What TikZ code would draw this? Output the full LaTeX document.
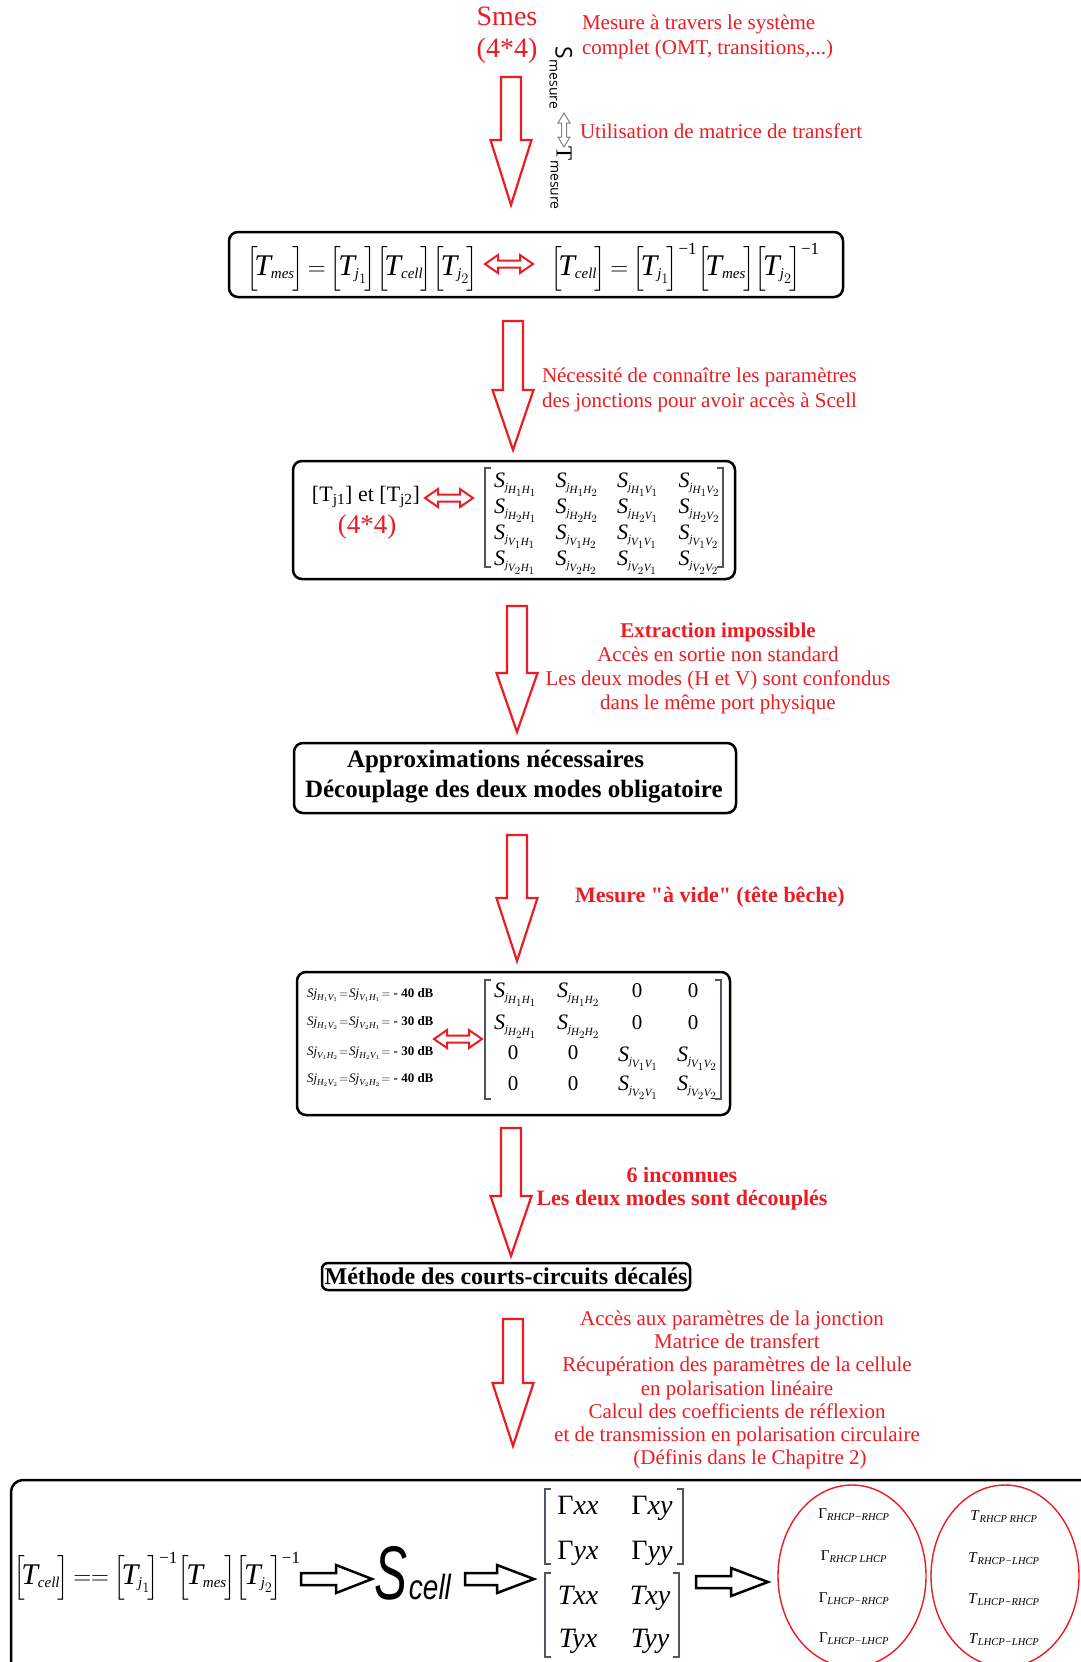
\documentclass[tikz,border=0pt]{standalone}
\usepackage{amsmath}
\usepackage{fontspec}
\setmainfont{Liberation Serif}
\newfontfamily\sansf{Liberation Sans}
\newfontfamily\opensans{Open Sans}
\usetikzlibrary{shapes.geometric}
\definecolor{myred}{RGB}{236,28,36}
\definecolor{brkc}{RGB}{80,85,100}
\newcommand{\fs}[2]{\fontsize{#1}{#2}\selectfont}
\newcommand{\mi}[1]{\text{\itshape #1}}
\newcommand{\Tm}{\mi{T}}
\newcommand{\bk}[1]{{\left[\rule[-13pt]{0pt}{42pt}\mkern-2.5mu#1\mkern-2mu\right]}}
\newcommand{\sbs}[1]{_{\scriptscriptstyle #1}}
\newcommand{\inv}{^{\text{\fs{17}{17}−1}}}
% big hollow red down arrow: x, top, head base, tip
\newcommand{\bigdown}[4]{\draw[blockarr] ({#1-10},#2) -- ({#1+10},#2) -- ({#1+10},#3) -- ({#1+20.5},#3) -- (#1,#4) -- ({#1-20.5},#3) -- ({#1-10},#3) -- cycle;}
% red hollow horizontal double arrow: x1, x2, y
\newcommand{\hdarrow}[3]{\draw[redd] (#1,#3) -- ({#1+13},{#3-9}) -- ({#1+13},{#3-3.5}) -- ({#2-13},{#3-3.5}) -- ({#2-13},{#3-9}) -- (#2,#3) -- ({#2-13},{#3+9}) -- ({#2-13},{#3+3.5}) -- ({#1+13},{#3+3.5}) -- ({#1+13},{#3+9}) -- cycle;}
% black hollow right arrow: x1, xhead, x2, y
\newcommand{\rarr}[4]{\draw[blackarr] (#1,{#4-6}) -- (#2,{#4-6}) -- (#2,{#4-14}) -- (#3,#4) -- (#2,{#4+14}) -- (#2,{#4+6}) -- (#1,{#4+6}) -- cycle;}
% bracket pair: xl, xr, top, bottom
\newcommand{\brpair}[4]{\draw[brk] ({#1+6},#3) -- (#1,#3) -- (#1,#4) -- ({#1+6},#4); \draw[brk] ({#2-6},#3) -- (#2,#3) -- (#2,#4) -- ({#2-6},#4);}
\begin{document}
\begin{tikzpicture}[x=1pt,y=-1pt,
  plain/.style={inner sep=0pt, outer sep=0pt},
  redtxt/.style={plain, text=myred, font=\fs{21}{24}, align=center},
  redtxtl/.style={plain, text=myred, font=\fs{21}{25}, align=left, anchor=west},
  boxst/.style={draw=black, line width=2.5pt, rounded corners=9pt, inner sep=0pt},
  blockarr/.style={draw=myred, line width=2.2pt, line join=miter},
  redd/.style={draw=myred, line width=2pt, line join=miter},
  blackarr/.style={draw=black, line width=2.5pt, line join=miter},
  brk/.style={draw=brkc, line width=1.1pt},
  ellst/.style={ellipse, draw=myred, line width=1.4pt, inner sep=0pt},
  frm/.style={plain, font=\fs{30}{30}, anchor=base west},
  sjeq/.style={plain, anchor=west, font=\fs{13}{13}}
]
\useasboundingbox (0,0) rectangle (1080,1662);
\fill[white] (0,0) rectangle (1080,1662);

% ---------- top ----------
\node[plain, text=myred, font=\fs{28}{32}, align=center] (smes) at (507,35) {Smes\\(4*4)};
\node[redtxtl] (t1) at (582,36.5) {Mesure à travers le système\\complet (OMT, transitions,...)};
\node[redtxtl] (t2) at (580,131) {Utilisation de matrice de transfert};
\node[plain, rotate=-90] (smesure) at (561,78) {\opensans\fs{23}{23}S\raisebox{-6pt}{\fs{14}{14}mesure}};
\node[plain, rotate=-90] (tmesure) at (561,178) {\fs{23}{23}T\raisebox{-6pt}{\opensans\fs{14}{14}mesure}};
\draw[draw=gray, line width=1pt, line join=miter] (564,113) -- (570,123) -- (566.5,123) -- (566.5,137) -- (570,137) -- (564,147) -- (558,137) -- (561.5,137) -- (561.5,123) -- (558,123) -- cycle;
\bigdown{511}{77}{140}{205}

% ---------- box 1 ----------
\node[boxst, minimum width=614pt, minimum height=65pt] (b1) at (536,264.5) {};
\node[frm] (f1) at (246,275) {$\thickmuskip=3mu \bk{\Tm\sbs{\mi{mes}}}=\bk{\Tm\sbs{\mi{j}_1}}\bk{\Tm\sbs{\mi{cell}}}\bk{\Tm\sbs{\mi{j}_2}}$};
\node[frm] (f2) at (550,275) {$\thickmuskip=3mu \bk{\Tm\sbs{\mi{cell}}}=\bk{\Tm\sbs{\mi{j}_1}}\inv\bk{\Tm\sbs{\mi{mes}}}\bk{\Tm\sbs{\mi{j}_2}}\inv$};
\hdarrow{485}{533}{264}

\bigdown{513}{321}{390}{450}
\node[redtxtl] (t3) at (542,389.5) {Nécessité de connaître les paramètres\\des jonctions pour avoir accès à Scell};

% ---------- box 2 ----------
\node[boxst, minimum width=442pt, minimum height=118pt] (b2) at (514,520) {};
\node[plain, font=\fs{22}{22}] (tj) at (366,497) {[T\textsubscript{j1}] et [T\textsubscript{j2}]};
\node[plain, text=myred, font=\fs{27}{27}] (q44) at (367,527) {(4*4)};
\hdarrow{425}{473}{498}
\brpair{485}{723}{468}{567}
\foreach \rr [count=\i] in {{\mi{H}_1},{\mi{H}_2},{\mi{V}_1},{\mi{V}_2}}{
  \foreach \cc [count=\k] in {{\mi{H}_1},{\mi{H}_2},{\mi{V}_1},{\mi{V}_2}}{
    \node[plain, anchor=base west, font=\fs{22}{22}] (m\i\k) at ({494+61.5*(\k-1)},{487+26*(\i-1)}) {$\mi{S}\sbs{\mi{j}_{\rr\cc}}$};
  }
}

\bigdown{517}{606}{673}{732}
\node[redtxt, font=\fs{21}{24.3}] (t4) at (718,668.5) {\textbf{Extraction impossible}\\Accès en sortie non standard\\Les deux modes (H et V) sont confondus\\dans le même port physique};

% ---------- box 3 ----------
\node[boxst, minimum width=442pt, minimum height=70pt] (b3) at (515,778) {};
\node[plain, font=\bfseries\fs{25}{30}, align=left, anchor=west] (t5) at (305,777) {\hspace*{42pt}Approximations nécessaires\\Découplage des deux modes obligatoire};

\bigdown{517}{835}{898}{961}
\node[plain, text=myred, font=\bfseries\fs{22}{22}, anchor=west] (t6) at (575,897) {Mesure \textquotedbl à vide\textquotedbl{} (tête bêche)};

% ---------- box 4 ----------
\node[boxst, minimum width=433pt, minimum height=143pt] (b4) at (513.5,1043.5) {};
\node[sjeq] (e1) at (307,995) {$\thickmuskip=1.5mu\mi{Sj}_{\mi{H}_1\mi{V}_1}=\mi{Sj}_{\mi{V}_1\mi{H}_1}=$ \textbf{- 40 dB}};
\node[sjeq] (e2) at (307,1023) {$\thickmuskip=1.5mu\mi{Sj}_{\mi{H}_1\mi{V}_2}=\mi{Sj}_{\mi{V}_2\mi{H}_1}=$ \textbf{- 30 dB}};
\node[sjeq] (e3) at (307,1053) {$\thickmuskip=1.5mu\mi{Sj}_{\mi{V}_1\mi{H}_2}=\mi{Sj}_{\mi{H}_2\mi{V}_1}=$ \textbf{- 30 dB}};
\node[sjeq] (e4) at (307,1080) {$\thickmuskip=1.5mu\mi{Sj}_{\mi{H}_2\mi{V}_2}=\mi{Sj}_{\mi{V}_2\mi{H}_2}=$ \textbf{- 40 dB}};
\hdarrow{434}{482}{1039}
\brpair{485}{721}{980}{1099}
\node[plain, anchor=base west, font=\fs{22}{22}] (n11) at (494,997) {$\mi{S}\sbs{\mi{j}_{\mi{H}_1\mi{H}_1}}$};
\node[plain, anchor=base west, font=\fs{22}{22}] (n12) at (557,997) {$\mi{S}\sbs{\mi{j}_{\mi{H}_1\mi{H}_2}}$};
\node[plain, anchor=base, font=\fs{21}{21}] (n13) at (637,997) {0};
\node[plain, anchor=base, font=\fs{21}{21}] (n14) at (693,997) {0};
\node[plain, anchor=base west, font=\fs{22}{22}] (n21) at (494,1029) {$\mi{S}\sbs{\mi{j}_{\mi{H}_2\mi{H}_1}}$};
\node[plain, anchor=base west, font=\fs{22}{22}] (n22) at (557,1029) {$\mi{S}\sbs{\mi{j}_{\mi{H}_2\mi{H}_2}}$};
\node[plain, anchor=base, font=\fs{21}{21}] (n23) at (637,1029) {0};
\node[plain, anchor=base, font=\fs{21}{21}] (n24) at (693,1029) {0};
\node[plain, anchor=base, font=\fs{21}{21}] (n31) at (513,1059) {0};
\node[plain, anchor=base, font=\fs{21}{21}] (n32) at (573,1059) {0};
\node[plain, anchor=base west, font=\fs{22}{22}] (n33) at (618,1061) {$\mi{S}\sbs{\mi{j}_{\mi{V}_1\mi{V}_1}}$};
\node[plain, anchor=base west, font=\fs{22}{22}] (n34) at (677,1061) {$\mi{S}\sbs{\mi{j}_{\mi{V}_1\mi{V}_2}}$};
\node[plain, anchor=base, font=\fs{21}{21}] (n41) at (513,1090) {0};
\node[plain, anchor=base, font=\fs{21}{21}] (n42) at (573,1090) {0};
\node[plain, anchor=base west, font=\fs{22}{22}] (n43) at (618,1090) {$\mi{S}\sbs{\mi{j}_{\mi{V}_2\mi{V}_1}}$};
\node[plain, anchor=base west, font=\fs{22}{22}] (n44) at (677,1090) {$\mi{S}\sbs{\mi{j}_{\mi{V}_2\mi{V}_2}}$};

\bigdown{511}{1128}{1196}{1256}
\node[plain, text=myred, font=\bfseries\fs{22}{23}, align=center] (t7) at (682,1188.5) {6 inconnues\\Les deux modes sont découplés};

% ---------- box 5 ----------
\node[boxst, rounded corners=6pt, minimum width=368pt, minimum height=27pt, font=\bfseries\fs{24}{24}] (b5) at (506,1276.5) {Méthode des courts-circuits décalés};

\bigdown{513}{1319}{1383}{1446}
\node[redtxt, font=\fs{21}{23.3}] (t8) at (737,1390) {Accès aux paramètres de la jonction\hspace*{10pt}\\Matrice de transfert\hspace*{16pt}\\Récupération des paramètres de la cellule\\en polarisation linéaire\\Calcul des coefficients de réflexion\\et de transmission en polarisation circulaire\\\hspace*{26pt}(Définis dans le Chapitre 2)};

% ---------- bottom box ----------
\draw[line width=2.5pt, rounded corners=12pt] (11,1700) -- (11,1480) -- (1100,1480);
\node[frm] (f3) at (13,1584) {$\thickmuskip=3mu \bk{\Tm\sbs{\mi{cell}}}=={\bk{\Tm\sbs{\mi{j}_1}}}\inv\bk{\Tm\sbs{\mi{mes}}}\bk{\Tm\sbs{\mi{j}_2}}\inv$};
\rarr{301}{336}{372}{1579}
\node[plain, anchor=base west] (scell) at (374,1599) {\sansf\itshape\scalebox{0.65}[1]{\fs{76}{76}S}\hspace{2pt}\scalebox{0.8}[1]{\fs{35}{35}cell}};
\rarr{465}{497}{534}{1579}
\brpair{545}{683}{1489}{1564}
\brpair{545}{679}{1573}{1657}
\node[plain, anchor=base, font=\fs{28}{28}] (g11) at (578,1514) {Γ\textit{xx}};
\node[plain, anchor=base, font=\fs{28}{28}] (g12) at (652,1514) {Γ\textit{xy}};
\node[plain, anchor=base, font=\fs{28}{28}] (g21) at (578,1559) {Γ\textit{yx}};
\node[plain, anchor=base, font=\fs{28}{28}] (g22) at (652,1559) {Γ\textit{yy}};
\node[plain, anchor=base, font=\fs{28}{28}] (h11) at (578,1604) {\textit{Txx}};
\node[plain, anchor=base, font=\fs{28}{28}] (h12) at (650,1604) {\textit{Txy}};
\node[plain, anchor=base, font=\fs{28}{28}] (h21) at (578,1647) {\textit{Tyx}};
\node[plain, anchor=base, font=\fs{28}{28}] (h22) at (650,1647) {\textit{Tyy}};
\rarr{696}{731}{768}{1582}
\node[ellst, minimum width=148pt, minimum height=182pt] (el1) at (852,1576) {};
\node[ellst, minimum width=148pt, minimum height=182pt] (el2) at (1005,1576) {};
\node[plain, anchor=base, font=\fs{15}{15}] (c11) at (854,1518) {Γ\textsubscript{\textit{RHCP−RHCP}}};
\node[plain, anchor=base, font=\fs{15}{15}] (c12) at (854,1560) {Γ\textsubscript{\textit{RHCP LHCP}}};
\node[plain, anchor=base, font=\fs{15}{15}] (c13) at (854,1602) {Γ\textsubscript{\textit{LHCP−RHCP}}};
\node[plain, anchor=base, font=\fs{15}{15}] (c14) at (854,1642) {Γ\textsubscript{\textit{LHCP−LHCP}}};
\node[plain, anchor=base, font=\fs{15}{15}] (d11) at (1004,1520) {\textit{T}\textsubscript{\textit{RHCP RHCP}}};
\node[plain, anchor=base, font=\fs{15}{15}] (d12) at (1004,1562) {\textit{T}\textsubscript{\textit{RHCP−LHCP}}};
\node[plain, anchor=base, font=\fs{15}{15}] (d13) at (1004,1603) {\textit{T}\textsubscript{\textit{LHCP−RHCP}}};
\node[plain, anchor=base, font=\fs{15}{15}] (d14) at (1004,1643) {\textit{T}\textsubscript{\textit{LHCP−LHCP}}};
\end{tikzpicture}
\end{document}
